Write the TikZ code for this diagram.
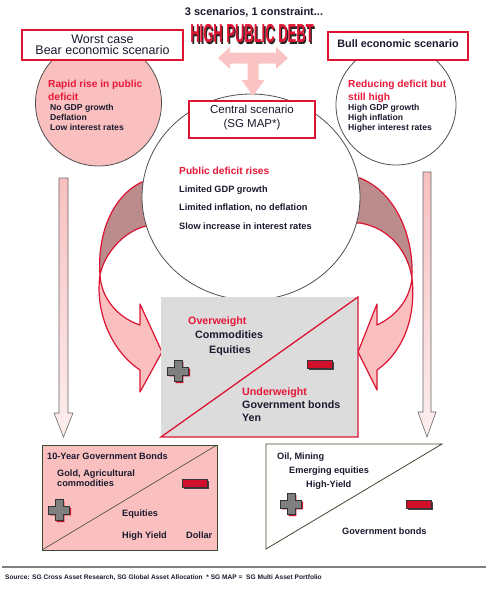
\documentclass[tikz,border=0pt]{standalone}
\usepackage{fontspec}
\setmainfont{Liberation Sans}
\definecolor{dk}{HTML}{1A1A2E}
\definecolor{redtxt}{HTML}{E8173A}
\definecolor{redline}{HTML}{DC1432}
\definecolor{pinkf}{HTML}{FAC0C0}
\definecolor{ribdark}{HTML}{BC8C8C}
\definecolor{grayf}{HTML}{DCDCDC}
\definecolor{tpink}{HTML}{FAC4C4}
\definecolor{olive}{HTML}{3C4A30}
\definecolor{circ}{HTML}{505050}
\definecolor{thintop}{HTML}{F8C0C0}
\definecolor{thinbot}{HTML}{FDEEEE}
\definecolor{plusgray}{HTML}{7F7F7F}
\definecolor{minred}{HTML}{D0102A}
\begin{document}
\begin{tikzpicture}[x=1pt,y=-1pt,
  txt/.style={anchor=west, inner sep=0pt, text=dk, text height=1.5ex, text depth=.3ex, font=\bfseries\fontsize{8.6}{10}\selectfont},
  ctxt/.style={txt, font=\bfseries\fontsize{9.2}{11}\selectfont},
  btxt/.style={txt, font=\bfseries\fontsize{9.2}{11}\selectfont},
  gtxt/.style={txt, font=\bfseries\fontsize{10.7}{12}\selectfont},
  redhead/.style={txt, text=redtxt, font=\bfseries\fontsize{10.2}{12}\selectfont},
  gred/.style={txt, text=redtxt, font=\bfseries\fontsize{10.7}{12}\selectfont},
  redbox/.style={draw=redline, line width=1.4pt, fill=white, inner sep=0pt},
  ribbonline/.style={draw=redline, line width=1.2pt, line join=round},
  circline/.style={draw=circ, line width=0.8pt},
  plussym/.pic={
    \begin{scope}[shift={(1.5,1.5)}]
      \fill[minred] (-3.8,-10.5) -- (3.8,-10.5) -- (3.8,-3.8) -- (10.5,-3.8) -- (10.5,3.8) -- (3.8,3.8) -- (3.8,10.5) -- (-3.8,10.5) -- (-3.8,3.8) -- (-10.5,3.8) -- (-10.5,-3.8) -- (-3.8,-3.8) -- cycle;
    \end{scope}
    \filldraw[fill=plusgray, draw=black!80, line width=0.6pt] (-3.8,-10.5) -- (3.8,-10.5) -- (3.8,-3.8) -- (10.5,-3.8) -- (10.5,3.8) -- (3.8,3.8) -- (3.8,10.5) -- (-3.8,10.5) -- (-3.8,3.8) -- (-10.5,3.8) -- (-10.5,-3.8) -- (-3.8,-3.8) -- cycle;
  },
  minussym/.pic={
    \fill[black!75] (-11,-2.5) rectangle (14,5.5);
    \filldraw[fill=minred, draw=black!80, line width=0.6pt] (-12.5,-4) rectangle (12.5,4);
  }
]
\useasboundingbox (0,0) rectangle (488,590);

% thin vertical arrows
\shade[draw=black!60, line width=0.6pt, top color=thintop, bottom color=thinbot]
  (59,178) -- (68,178) -- (68,413) -- (73,413) -- (63.5,437) -- (54,413) -- (59,413) -- cycle;
\shade[draw=black!60, line width=0.6pt, top color=thintop, bottom color=thinbot]
  (423,172) -- (431,172) -- (431,412) -- (436,412) -- (427,437) -- (418,412) -- (423,412) -- cycle;

% left ribbon
\filldraw[fill=ribdark, ribbonline] (165,180) -- (142,182) .. controls (112,196) and (97,235) .. (100,275)
  .. controls (104,255) and (122,232) .. (146,226) -- (165,226) -- cycle;
\filldraw[fill=pinkf, ribbonline] (100,275) .. controls (95,310) and (110,350) .. (140,370)
  -- (140,392) -- (162,352) -- (140,304) -- (140,325) .. controls (118,318) and (101,298) .. (100,275) -- cycle;

% right ribbon
\filldraw[fill=ribdark, ribbonline] (340,178) -- (360,178) .. controls (395,192) and (414,235) .. (412,278)
  .. controls (408,252) and (390,228) .. (360,223) -- (340,223) -- cycle;
\filldraw[fill=pinkf, ribbonline] (412,278) .. controls (416,315) and (405,350) .. (377,370)
  -- (377,390) -- (358,352) -- (377,304) -- (377,325) .. controls (398,315) and (410,298) .. (412,278) -- cycle;

% circles
\filldraw[fill=pinkf, circline] (98.5,103) circle[radius=63];
\filldraw[fill=white, circline] (396,105) circle[radius=60];
\filldraw[fill=white, circline] (251,197) ellipse[x radius=109, y radius=103];

% title boxes
\node[redbox, minimum width=161pt, minimum height=30pt] (worst) at (102.5,45) {};
\node[inner sep=0pt, text=dk, align=center, font=\fontsize{12.5}{11}\selectfont] (worsttxt) at (102.5,44.5) {Worst case\\Bear economic scenario};
\node[redbox, minimum width=140pt, minimum height=28pt] (bull) at (398,46) {};
\node[inner sep=0pt, text=dk, font=\bfseries\fontsize{10.8}{12}\selectfont] (bulltxt) at (398,43.5) {Bull economic scenario};
\node[redbox, minimum width=126pt, minimum height=37pt] (central) at (252,119.5) {};
\node[inner sep=0pt, text=dk, align=center, font=\fontsize{11.5}{14}\selectfont] (centraltxt) at (252,118) {Central scenario\\(SG MAP*)};

% T arrow
\fill[tpink] (218,58) -- (230,47) -- (230,52.5) -- (276,52.5) -- (276,47) -- (288,58) -- (276,69) -- (276,63.5)
  -- (258.5,63.5) -- (258.5,80) -- (264.5,80) -- (253,96) -- (241.5,80) -- (247.5,80) -- (247.5,63.5)
  -- (230,63.5) -- (230,69) -- cycle;

% headline
\node[inner sep=0pt, text=dk, font=\bfseries\fontsize{11}{13}\selectfont] (subtitle) at (254,12) {3 scenarios, 1 constraint...};
\node[inner sep=0pt, text=black!85, xscale=0.5, font=\bfseries\fontsize{26}{28}\selectfont] (debtshadow) at (253.3,35.3) {HIGH PUBLIC DEBT};
\node[inner sep=0pt, text=redline, xscale=0.5, font=\bfseries\fontsize{26}{28}\selectfont] (debt) at (252,34) {HIGH PUBLIC DEBT};

% circle texts
\node[redhead] (l1) at (48,84) {Rapid rise in public};
\node[redhead] (l2) at (48,97) {deficit};
\node[txt] (l3) at (50,107) {No GDP growth};
\node[txt] (l4) at (50,117.5) {Deflation};
\node[txt] (l5) at (50,127.5) {Low interest rates};

\node[redhead] (r1) at (348,84) {Reducing deficit but};
\node[redhead] (r2) at (348,97) {still high};
\node[txt] (r3) at (348,107) {High GDP growth};
\node[txt] (r4) at (348,117.5) {High inflation};
\node[txt] (r5) at (348,127.5) {Higher interest rates};

\node[redhead] (c1) at (179,171) {Public deficit rises};
\node[ctxt] (c2) at (179,189) {Limited GDP growth};
\node[ctxt] (c3) at (179,207) {Limited inflation, no deflation};
\node[ctxt] (c4) at (179,226) {Slow increase in interest rates};

% central allocation box
\fill[grayf] (161,297) rectangle (358,437);
\draw[redline, line width=1.3pt, line join=miter] (161,437) -- (358,297) -- (358,437) -- cycle;
\node[gred] (g1) at (188,321) {Overweight};
\node[gtxt] (g2) at (195,335) {Commodities};
\node[gtxt] (g3) at (209,350) {Equities};
\node[gred] (g4) at (242,392) {Underweight};
\node[gtxt] (g5) at (242,405) {Government bonds};
\node[gtxt] (g6) at (242,418) {Yen};
\pic at (178,371) {plussym};
\pic at (320,364) {minussym};

% bottom left box
\filldraw[fill=pinkf, draw=olive, line width=0.8pt] (42,445) rectangle (217,550);
\draw[olive, line width=0.6pt] (42,550) -- (217,445);
\node[btxt] (bl1) at (47,456) {10-Year Government Bonds};
\node[btxt] (bl2) at (57,473) {Gold, Agricultural};
\node[btxt] (bl3) at (57,483) {commodities};
\node[btxt] (bl4) at (122,513) {Equities};
\node[btxt] (bl5) at (122,535) {High Yield};
\node[btxt] (bl6) at (186,535) {Dollar};
\pic at (59,510) {plussym};
\pic at (195,483) {minussym};

% bottom right triangle
\filldraw[fill=white, draw=olive, line width=0.8pt] (266,444) -- (442,444) -- (266,549) -- cycle;
\node[btxt] (br1) at (277,456) {Oil, Mining};
\node[btxt] (br2) at (289,470) {Emerging equities};
\node[btxt] (br3) at (306,484) {High-Yield};
\node[btxt] (br4) at (342,531) {Government bonds};
\pic at (291,504) {plussym};
\pic at (419,504) {minussym};

% footer
\draw[black!50, line width=1.5pt] (2,567) -- (486,567);
\node[txt, font=\bfseries\fontsize{6.6}{8}\selectfont] (source) at (5,576) {Source: SG Cross Asset Research, SG Global Asset Allocation\ \ * SG MAP =\ \ SG Multi Asset Portfolio};
\end{tikzpicture}
\end{document}
